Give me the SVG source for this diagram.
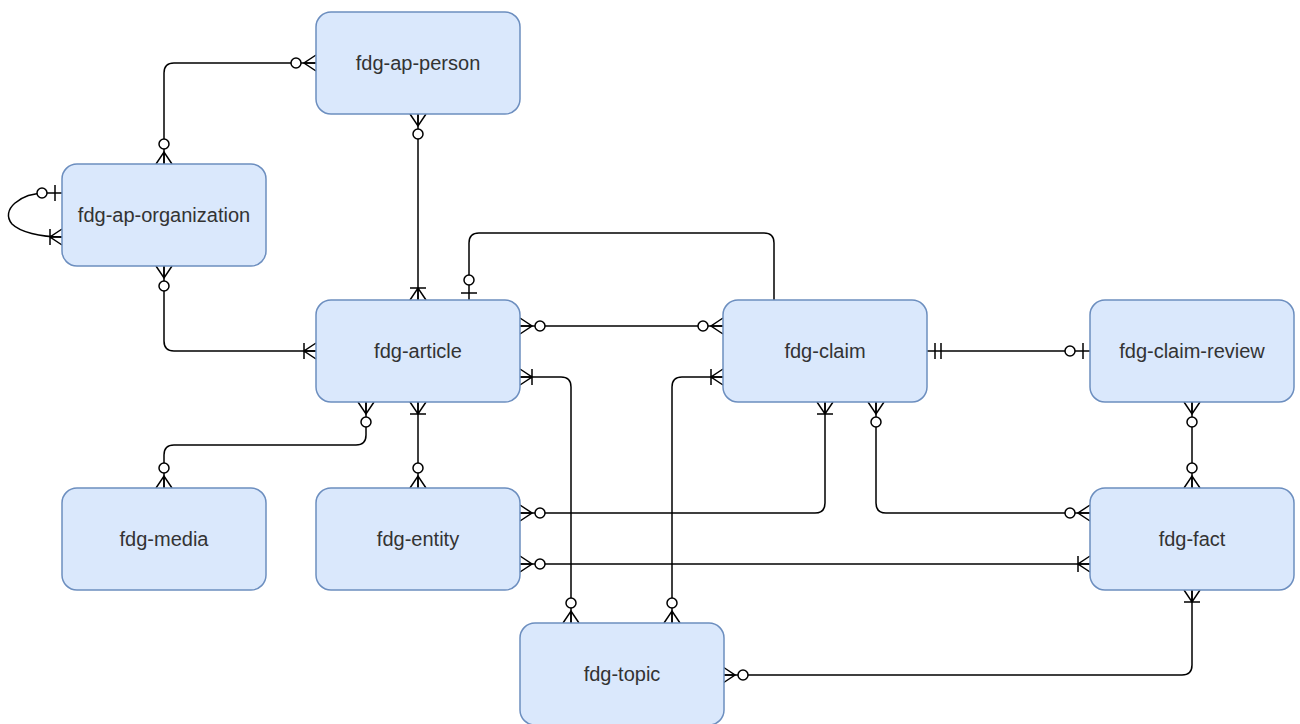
<svg xmlns="http://www.w3.org/2000/svg" width="1300" height="724" viewBox="0 0 1300 724">
  <style>
    .entity rect { fill: #dae8fc; stroke: #6c8ebf; stroke-width: 1.5; }
    .entity text { font-family: "Liberation Sans", Arial, sans-serif; font-size: 20px; fill: #333333; text-anchor: middle; }
    .rel { fill: none; stroke: #000000; stroke-width: 1.5; }
    .mk { fill: none; stroke: #000000; stroke-width: 1.5; }
    .mk circle { fill: #ffffff; }
  </style>
  <defs>
    <!-- ER notation markers; entity edge at x=0, line arriving from -x -->
    <marker id="zeroMany" viewBox="-30 -12 32 24" refX="0" refY="0" markerWidth="32" markerHeight="24" markerUnits="userSpaceOnUse" orient="auto-start-reverse">
      <g class="mk">
        <path d="M0,-8 L-12,0 L0,8 M0,0 L-12,0"/>
        <circle cx="-20" cy="0" r="5"/>
      </g>
    </marker>
    <marker id="oneMany" viewBox="-30 -12 32 24" refX="0" refY="0" markerWidth="32" markerHeight="24" markerUnits="userSpaceOnUse" orient="auto-start-reverse">
      <g class="mk">
        <path d="M0,-8 L-12,0 L0,8 M0,0 L-12,0 M-12,-8 L-12,8"/>
      </g>
    </marker>
    <marker id="zeroOne" viewBox="-30 -12 32 24" refX="0" refY="0" markerWidth="32" markerHeight="24" markerUnits="userSpaceOnUse" orient="auto-start-reverse">
      <g class="mk">
        <path d="M-7,-8 L-7,8"/>
        <circle cx="-20" cy="0" r="5"/>
      </g>
    </marker>
    <marker id="mandOne" viewBox="-30 -12 32 24" refX="0" refY="0" markerWidth="32" markerHeight="24" markerUnits="userSpaceOnUse" orient="auto-start-reverse">
      <g class="mk">
        <path d="M-8,-8 L-8,8 M-14,-8 L-14,8"/>
      </g>
    </marker>
  </defs>

  <!-- relationships -->
  <g id="connectors">
    <path class="rel" d="M164,164 V73 Q164,63 174,63 H316" marker-start="url(#zeroMany)" marker-end="url(#zeroMany)"/>
    <path class="rel" d="M418,114 V300" marker-start="url(#zeroMany)" marker-end="url(#oneMany)"/>
    <path class="rel" d="M62,193 L46,193 C20,193 0,210 12,224 C20,232 40,237 62,237" marker-start="url(#zeroOne)" marker-end="url(#oneMany)"/>
    <path class="rel" d="M164,266 V341 Q164,351 174,351 H316" marker-start="url(#zeroMany)" marker-end="url(#oneMany)"/>
    <path class="rel" d="M469,300 V243 Q469,233 479,233 H764 Q774,233 774,243 V300" marker-start="url(#zeroOne)"/>
    <path class="rel" d="M520,326 H723" marker-start="url(#zeroMany)" marker-end="url(#zeroMany)"/>
    <path class="rel" d="M520,377 H561 Q571,377 571,387 V623" marker-start="url(#oneMany)" marker-end="url(#zeroMany)"/>
    <path class="rel" d="M723,377 H682 Q672,377 672,387 V623" marker-start="url(#oneMany)" marker-end="url(#zeroMany)"/>
    <path class="rel" d="M927,351 H1090" marker-start="url(#mandOne)" marker-end="url(#zeroOne)"/>
    <path class="rel" d="M825,402 V503 Q825,513 815,513 H520" marker-start="url(#oneMany)" marker-end="url(#zeroMany)"/>
    <path class="rel" d="M876,402 V503 Q876,513 886,513 H1090" marker-start="url(#zeroMany)" marker-end="url(#zeroMany)"/>
    <path class="rel" d="M520,564 H1090" marker-start="url(#zeroMany)" marker-end="url(#oneMany)"/>
    <path class="rel" d="M1192,402 V488" marker-start="url(#zeroMany)" marker-end="url(#zeroMany)"/>
    <path class="rel" d="M366,402 V435 Q366,445 356,445 H174 Q164,445 164,455 V488" marker-start="url(#zeroMany)" marker-end="url(#zeroMany)"/>
    <path class="rel" d="M418,402 V488" marker-start="url(#oneMany)" marker-end="url(#zeroMany)"/>
    <path class="rel" d="M723,675 H1182 Q1192,675 1192,665 V590" marker-start="url(#zeroMany)" marker-end="url(#oneMany)"/>
  </g>

  <!-- entities -->
  <g id="fdg-ap-person" class="entity">
    <rect x="316" y="12" width="204" height="102" rx="15"/>
    <text x="418" y="70">fdg-ap-person</text>
  </g>
  <g id="fdg-ap-organization" class="entity">
    <rect x="62" y="164" width="204" height="102" rx="15"/>
    <text x="164" y="222">fdg-ap-organization</text>
  </g>
  <g id="fdg-article" class="entity">
    <rect x="316" y="300" width="204" height="102" rx="15"/>
    <text x="418" y="358">fdg-article</text>
  </g>
  <g id="fdg-claim" class="entity">
    <rect x="723" y="300" width="204" height="102" rx="15"/>
    <text x="825" y="358">fdg-claim</text>
  </g>
  <g id="fdg-claim-review" class="entity">
    <rect x="1090" y="300" width="204" height="102" rx="15"/>
    <text x="1192" y="358">fdg-claim-review</text>
  </g>
  <g id="fdg-media" class="entity">
    <rect x="62" y="488" width="204" height="102" rx="15"/>
    <text x="164" y="546">fdg-media</text>
  </g>
  <g id="fdg-entity" class="entity">
    <rect x="316" y="488" width="204" height="102" rx="15"/>
    <text x="418" y="546">fdg-entity</text>
  </g>
  <g id="fdg-fact" class="entity">
    <rect x="1090" y="488" width="204" height="102" rx="15"/>
    <text x="1192" y="546">fdg-fact</text>
  </g>
  <g id="fdg-topic" class="entity">
    <rect x="520" y="623" width="204" height="102" rx="15"/>
    <text x="622" y="681">fdg-topic</text>
  </g>
</svg>
